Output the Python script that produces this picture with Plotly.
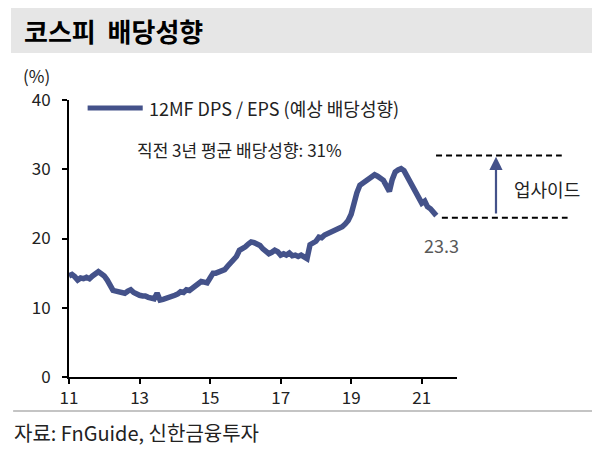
import plotly.graph_objects as go
import pandas as pd

# 12MF DPS / EPS, monthly, 2011-01 .. 2021-06 (%)
months = pd.date_range("2011-01-01", "2021-06-01", freq="MS")
payout = [
    14.6, 14.8, 14.5, 14.0, 14.3, 14.2, 14.4, 14.2, 14.6, 14.9, 15.2, 14.9,
    14.6, 14.0, 13.1, 12.5, 12.4, 12.3, 12.2, 12.1, 12.4, 12.6, 12.2, 11.9,
    11.8, 11.7, 11.7, 11.5, 11.4, 11.3, 12.1, 11.1, 11.2, 11.3, 11.4, 11.6,
    11.8, 12.0, 12.3, 12.2, 12.6, 12.5, 12.8, 13.0, 13.4, 13.8, 13.7, 13.6,
    14.3, 15.0, 15.0, 15.1, 15.2, 15.5, 16.0, 16.5, 16.9, 17.4, 18.3, 18.5,
    18.8, 19.2, 19.5, 19.4, 19.2, 19.0, 18.5, 18.0, 17.8, 18.0, 18.3, 18.1,
    17.6, 17.8, 17.6, 17.9, 17.5, 17.6, 17.4, 17.6, 17.3, 17.1, 19.1, 19.3,
    19.6, 20.2, 20.1, 20.5, 20.7, 20.9, 21.1, 21.3, 21.4, 21.7, 22.1, 22.6,
    23.5, 25.6, 26.6, 27.7, 28.0, 28.4, 28.7, 28.9, 29.2, 29.0, 28.8, 28.4,
    27.6, 26.8, 28.5, 29.6, 29.9, 30.1, 29.8, 29.0, 28.2, 27.3, 26.6, 25.8,
    25.1, 25.4, 24.6, 24.3, 23.8, 23.3,
]
upside_levels = [32.0, 23.0]   # dashed guide lines (top, bottom)
last_value = "23.3"

font = "Noto Sans CJK KR"
navy = "#44528a"

fig = go.Figure()
fig.add_trace(go.Scatter(x=months, y=payout, mode="lines",
                         line=dict(color=navy, width=5.5), showlegend=False))

shapes = [
    # title bar
    dict(type="rect", xref="paper", yref="paper", x0=-0.1495, x1=1.37, y0=1.17, y1=1.34,
         fillcolor="#e6e6e6", line=dict(width=0), layer="below"),
    # footer rule
    dict(type="line", xref="paper", yref="paper", x0=-0.144, x1=1.37, y0=-0.1227, y1=-0.1227,
         line=dict(color="#b0b0b0", width=1.5)),
    # legend sample
    dict(type="line", xref="paper", yref="paper", x0=0.048, x1=0.19, y0=0.971, y1=0.971,
         line=dict(color=navy, width=5)),
    # upside dashed lines
    dict(type="line", xref="paper", yref="y", x0=0.946, x1=1.27,
         y0=upside_levels[0], y1=upside_levels[0], line=dict(color="black", width=2, dash="6px,4px")),
    dict(type="line", xref="paper", yref="y", x0=0.961, x1=1.285,
         y0=upside_levels[1], y1=upside_levels[1], line=dict(color="black", width=2, dash="6px,4px")),
]

annotations = [
    dict(text="<b>코스피  배당성향</b>", xref="paper", yref="paper", x=-0.122, y=1.25,
         xanchor="left", yanchor="middle", showarrow=False, font=dict(size=26, color="black")),
    dict(text="(%)", xref="paper", yref="paper", x=-0.085, y=1.09,
         xanchor="center", yanchor="middle", showarrow=False, font=dict(size=17, color="#222")),
    dict(text="12MF DPS / EPS (예상 배당성향)", xref="paper", yref="paper", x=0.2, y=0.971,
         xanchor="left", yanchor="middle", showarrow=False, font=dict(size=18, color="#222")),
    dict(text="직전 3년 평균 배당성향: 31%", xref="paper", yref="paper", x=0.17, y=0.82,
         xanchor="left", yanchor="middle", showarrow=False, font=dict(size=17, color="#222")),
    dict(text=last_value, xref="paper", yref="paper", x=0.961, y=0.4765,
         xanchor="center", yanchor="middle", showarrow=False, font=dict(size=18, color="#595959")),
    dict(text="업사이드", xref="paper", yref="paper", x=1.142, y=0.68,
         xanchor="left", yanchor="middle", showarrow=False, font=dict(size=18, color="#222")),
    dict(text="", xref="paper", yref="y", x=1.1005, y=upside_levels[0] - 0.2,
         axref="pixel", ayref="y", ax=0, ay=upside_levels[1] + 0.4,
         showarrow=True, arrowhead=2, arrowsize=1.2, arrowwidth=2.2, arrowcolor=navy),
    dict(text="자료: FnGuide, 신한금융투자", xref="paper", yref="paper", x=-0.146, y=-0.199,
         xanchor="left", yanchor="middle", showarrow=False, font=dict(size=20, color="#222")),
]

# page body adds an 8px margin, so the figure is 8px smaller than the window
fig.update_layout(
    width=592, height=448, autosize=False,
    margin=dict(l=61, r=143, t=92, b=79),
    paper_bgcolor="white", plot_bgcolor="white",
    font=dict(family=font, color="#222"),
    shapes=shapes, annotations=annotations,
    xaxis=dict(range=["2011-01-01", "2022-01-01"], tick0="2011-01-01", dtick="M24",
               tickformat="%y", showgrid=False, zeroline=False,
               showline=True, linecolor="black", linewidth=2,
               ticks="outside", ticklen=5, tickwidth=2, tickcolor="black",
               tickfont=dict(size=17, color="#222")),
    yaxis=dict(range=[0, 40], dtick=10, showgrid=False, zeroline=False,
               showline=True, linecolor="black", linewidth=2,
               ticks="outside", ticklen=5, tickwidth=2, tickcolor="black",
               ticklabelstandoff=8, tickfont=dict(size=17, color="#222")),
)

fig.write_html("out.html")
